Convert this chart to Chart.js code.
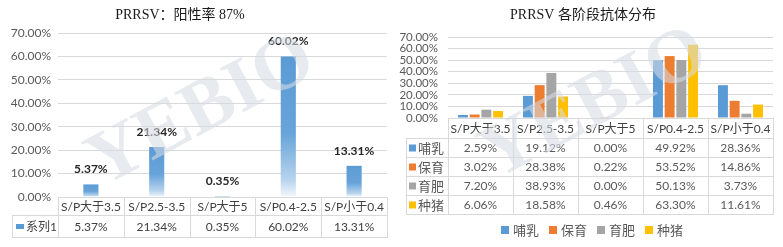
<!DOCTYPE html>
<html>
<head>
<meta charset="utf-8">
<script src="https://cdn.jsdelivr.net/npm/chart.js@4"></script>
<style>
  html, body { margin: 0; padding: 0; background: #fff; }
  #wrap { position: relative; width: 783px; height: 247px; overflow: hidden; }
  #leftBox { position: absolute; left: 0; top: 0; width: 390px; height: 247px; }
  #rightBox { position: absolute; left: 390px; top: 0; width: 393px; height: 247px; }
</style>
</head>
<body>
<div id="wrap">
  <div id="leftBox"><canvas id="leftChart" width="390" height="247"></canvas></div>
  <div id="rightBox"><canvas id="rightChart" width="393" height="247"></canvas></div>
</div>
<script>
// data
const categories = ['S/P大于3.5', 'S/P2.5-3.5', 'S/P大于5', 'S/P0.4-2.5', 'S/P小于0.4'];
const seriesName = '系列1';
const positiveRate = [5.37, 21.34, 0.35, 60.02, 13.31];

const stageNames = ['哺乳', '保育', '育肥', '种猪'];
const suckling = [2.59, 19.12, 0.00, 49.92, 28.36];
const nursery = [3.02, 28.38, 0.22, 53.52, 14.86];
const finishing = [7.20, 38.93, 0.00, 50.13, 3.73];
const breeding = [6.06, 18.58, 0.46, 63.30, 11.61];

const yMax = 70;
const yStep = 10;

const leftTitle = 'PRRSV：阳性率 87%';
const rightTitle = 'PRRSV 各阶段抗体分布';
const watermark = 'YEBIO';

const stageColors = ['#5B9BD5', '#ED7D31', '#A5A5A5', '#FFC000'];
const FONT = 'Lato, "Noto Sans CJK SC", sans-serif';
const SERIF = '"Liberation Serif", "Noto Sans CJK SC", serif';
const LINE = '#d9d9d9';

function pct(v) { return v.toFixed(2) + '%'; }

function hline(ctx, x1, x2, y) {
    ctx.beginPath();
    ctx.moveTo(x1, Math.round(y) + 0.5);
    ctx.lineTo(x2, Math.round(y) + 0.5);
    ctx.stroke();
}
function vline(ctx, x, y1, y2) {
    ctx.beginPath();
    ctx.moveTo(Math.round(x) + 0.5, y1);
    ctx.lineTo(Math.round(x) + 0.5, y2);
    ctx.stroke();
}

function drawWatermark(ctx, cx, cy) {
    ctx.save();
    ctx.translate(cx, cy);
    ctx.rotate(-28 * Math.PI / 180);
    ctx.font = 'bold 76px ' + SERIF;
    ctx.fillStyle = 'rgba(214, 219, 228, 0.58)';
    ctx.textAlign = 'center';
    ctx.textBaseline = 'middle';
    ctx.fillText(watermark, 0, 0);
    ctx.restore();
}

function yScale(tickSize, pad) {
    return {
        min: 0,
        max: yMax,
        border: { display: false },
        grid: { color: LINE, drawTicks: false },
        ticks: {
            stepSize: yStep,
            autoSkip: false,
            padding: pad,
            color: '#595959',
            font: { family: FONT, size: tickSize },
            callback: v => pct(v)
        },
        afterFit: s => { s.width = 58; }
    };
}

// left chart: bars fade out towards the bottom
function fadeBlue(context) {
    const chart = context.chart;
    if (!chart.chartArea || !chart.scales.y || !context.parsed) return '#5B9BD5';
    const y = chart.scales.y;
    const top = y.getPixelForValue(context.parsed.y);
    const bottom = y.getPixelForValue(0);
    if (bottom - top < 1) return '#5B9BD5';
    const g = chart.ctx.createLinearGradient(0, top, 0, bottom);
    g.addColorStop(0, '#5B9BD5');
    g.addColorStop(0.55, '#68A4DA');
    g.addColorStop(0.88, '#B8D4ED');
    g.addColorStop(1, '#F4F8FC');
    return g;
}

const leftPlugin = {
    id: 'leftExtras',
    afterDatasetsDraw(chart) {
        const ctx = chart.ctx;
        const meta = chart.getDatasetMeta(0);
        ctx.save();
        ctx.font = 'bold 12px ' + FONT;
        ctx.fillStyle = '#262626';
        ctx.textAlign = 'center';
        ctx.textBaseline = 'middle';
        meta.data.forEach((bar, i) => {
            ctx.fillText(pct(positiveRate[i]), bar.x, bar.y - 15);
        });
        ctx.restore();
    },
    afterDraw(chart) {
        const ctx = chart.ctx;
        const a = chart.chartArea;
        const n = categories.length;
        const colW = (a.right - a.left) / n;
        const rowTop = a.bottom, rowMid = 215, rowBot = 237, tableLeft = 12;
        ctx.save();
        ctx.strokeStyle = LINE;
        ctx.lineWidth = 1;
        for (let i = 0; i <= n; i++) vline(ctx, a.left + i * colW, rowTop, rowBot);
        vline(ctx, tableLeft, rowMid, rowBot);
        hline(ctx, tableLeft, a.right + 1, rowMid);
        hline(ctx, tableLeft, a.right + 1, rowBot);

        ctx.fillStyle = '#404040';
        ctx.font = '12px ' + FONT;
        ctx.textAlign = 'center';
        ctx.textBaseline = 'middle';
        categories.forEach((c, i) => {
            ctx.fillText(c, a.left + (i + 0.5) * colW, (rowTop + rowMid) / 2 + 1);
            ctx.fillText(pct(positiveRate[i]), a.left + (i + 0.5) * colW, (rowMid + rowBot) / 2 + 1);
        });
        ctx.fillStyle = '#5B9BD5';
        ctx.fillRect(16, 224, 8, 5);
        ctx.fillStyle = '#404040';
        ctx.textAlign = 'left';
        ctx.fillText(seriesName, 26, (rowMid + rowBot) / 2 + 1);

        ctx.font = '14px ' + SERIF;
        ctx.fillStyle = '#1a1a1a';
        ctx.textAlign = 'center';
        ctx.fillText(leftTitle, 180, 15);
        ctx.restore();

        drawWatermark(ctx, 202, 112);
    }
};

new Chart(document.getElementById('leftChart'), {
    type: 'bar',
    data: {
        labels: categories,
        datasets: [{
            label: seriesName,
            data: positiveRate,
            backgroundColor: fadeBlue,
            categoryPercentage: 1,
            barPercentage: 0.23
        }]
    },
    options: {
        responsive: false,
        animation: false,
        layout: { padding: { top: 33, bottom: 50, left: 0, right: 3 } },
        plugins: { legend: { display: false }, title: { display: false }, tooltip: { enabled: false } },
        scales: {
            x: { display: false },
            y: yScale(12, 7)
        }
    },
    plugins: [leftPlugin]
});

// right chart: grouped bars per stage
const stageData = [suckling, nursery, finishing, breeding];

const rightPlugin = {
    id: 'rightExtras',
    afterDraw(chart) {
        const ctx = chart.ctx;
        const a = chart.chartArea;
        const n = categories.length;
        const colW = (a.right - a.left) / n;
        const rows = [a.bottom, 138, 157, 176, 195, 214];
        const tableLeft = 16;
        ctx.save();
        ctx.strokeStyle = LINE;
        ctx.lineWidth = 1;
        for (let i = 0; i <= n; i++) vline(ctx, a.left + i * colW, rows[0], rows[rows.length - 1]);
        vline(ctx, tableLeft, rows[1], rows[rows.length - 1]);
        for (let r = 1; r < rows.length; r++) hline(ctx, tableLeft, a.right + 1, rows[r]);

        ctx.textAlign = 'center';
        ctx.textBaseline = 'middle';
        ctx.font = '12px ' + FONT;
        ctx.fillStyle = '#404040';
        categories.forEach((c, i) => {
            ctx.fillText(c, a.left + (i + 0.5) * colW, (rows[0] + rows[1]) / 2 + 1);
        });
        stageData.forEach((vals, s) => {
            const yMid = (rows[s + 1] + rows[s + 2]) / 2 + 1;
            ctx.font = '12px ' + FONT;
            ctx.fillStyle = '#595959';
            ctx.textAlign = 'center';
            vals.forEach((v, i) => ctx.fillText(pct(v), a.left + (i + 0.5) * colW, yMid));
            ctx.fillStyle = stageColors[s];
            ctx.fillRect(tableLeft + 3, yMid - 4, 7, 7);
            ctx.fillStyle = '#595959';
            ctx.textAlign = 'left';
            ctx.font = '13px ' + FONT;
            ctx.fillText(stageNames[s], tableLeft + 12, yMid);
        });

        // legend
        ctx.font = '13px ' + FONT;
        const box = 8, gap = 4, itemGap = 10;
        const widths = stageNames.map(s => box + gap + ctx.measureText(s).width);
        const total = widths.reduce((p, w) => p + w, 0) + itemGap * (widths.length - 1);
        let x = 202 - total / 2;
        const ly = 230;
        stageNames.forEach((s, i) => {
            ctx.fillStyle = stageColors[i];
            ctx.fillRect(x, ly - 4, box, box);
            ctx.fillStyle = '#595959';
            ctx.textAlign = 'left';
            ctx.fillText(s, x + box + gap, ly + 1);
            x += widths[i] + itemGap;
        });

        ctx.font = '14px ' + SERIF;
        ctx.fillStyle = '#1a1a1a';
        ctx.textAlign = 'center';
        ctx.fillText(rightTitle, 193, 15);
        ctx.restore();

        drawWatermark(ctx, 205, 105);
    }
};

new Chart(document.getElementById('rightChart'), {
    type: 'bar',
    data: {
        labels: categories,
        datasets: stageNames.map((name, i) => ({
            label: name,
            data: stageData[i],
            backgroundColor: stageColors[i],
            categoryPercentage: 0.72,
            barPercentage: 0.85
        }))
    },
    options: {
        responsive: false,
        animation: false,
        layout: { padding: { top: 37, bottom: 129, left: 0, right: 10 } },
        plugins: { legend: { display: false }, title: { display: false }, tooltip: { enabled: false } },
        scales: {
            x: { display: false },
            y: yScale(11.5, 10)
        }
    },
    plugins: [rightPlugin]
});
</script>
</body>
</html>
